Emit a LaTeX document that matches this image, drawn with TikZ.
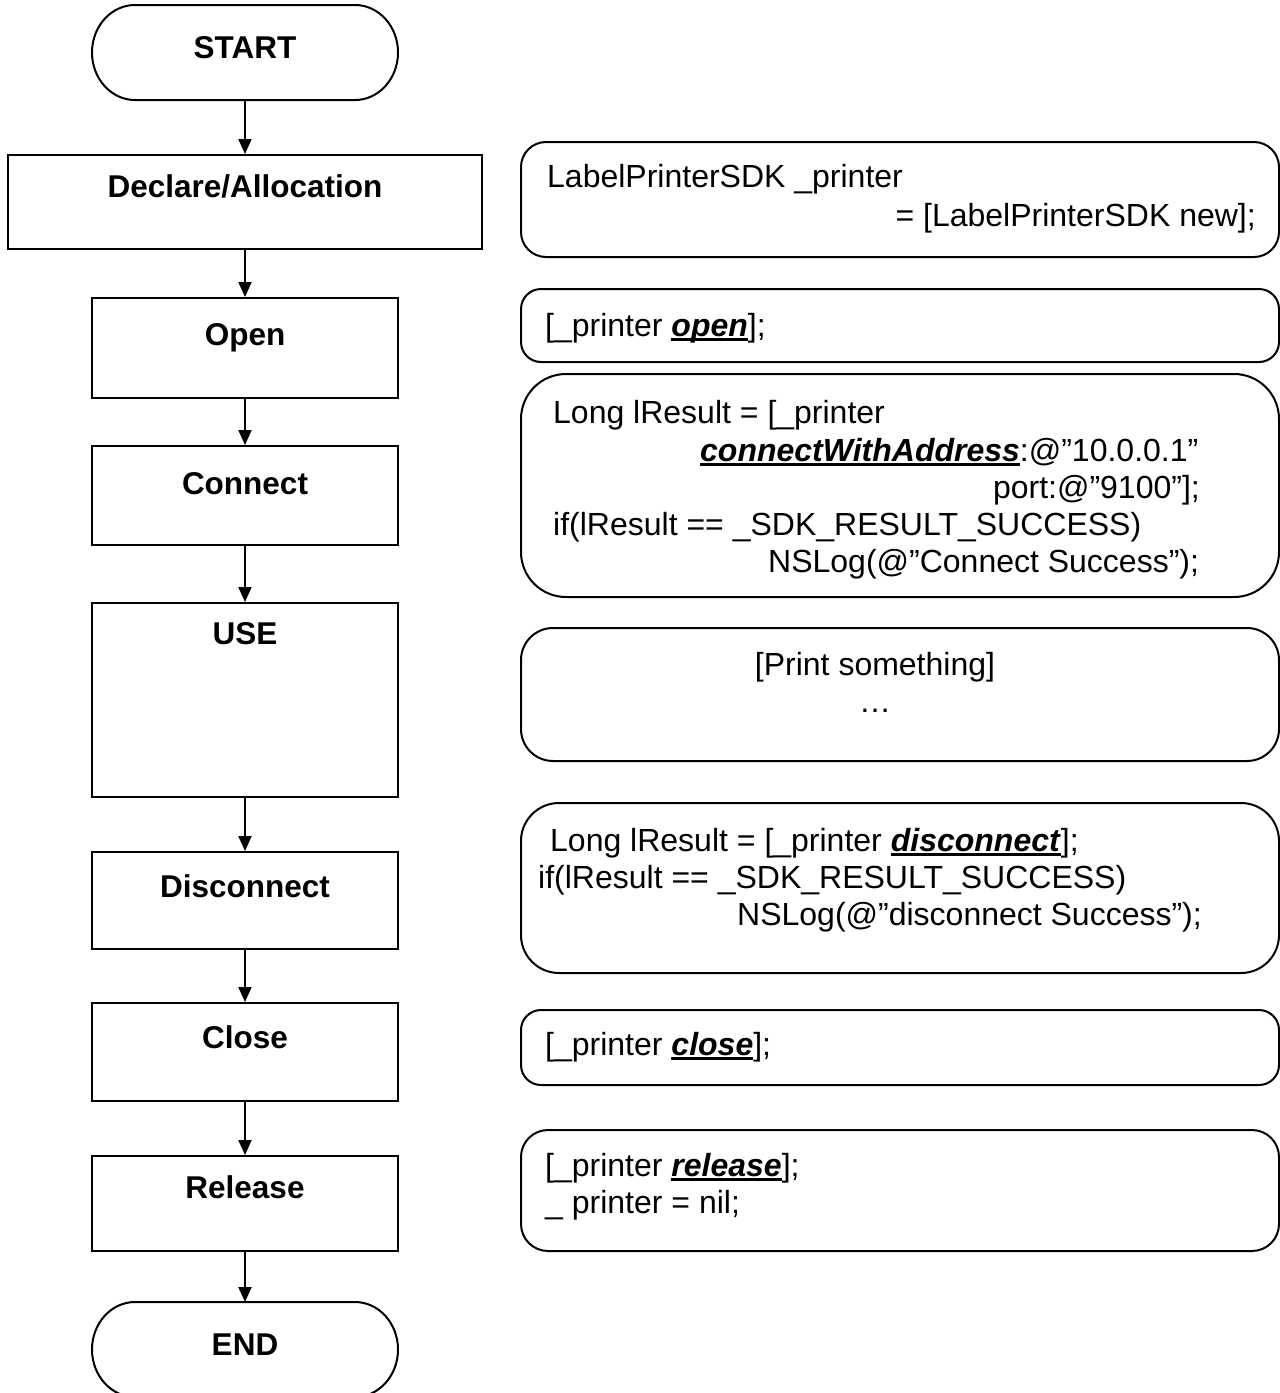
\documentclass[tikz,border=0pt]{standalone}
\usepackage{fontspec}
\setmainfont{Liberation Sans}
\usetikzlibrary{arrows.meta}
\newsavebox\myulbox
\newcommand{\myul}[1]{\sbox\myulbox{\textbf{\textit{#1}}}\rlap{\rule[-5pt]{\wd\myulbox}{2.6pt}}\usebox\myulbox}
\begin{document}
\begin{tikzpicture}[x=1pt,y=-1pt,
  flow/.style={draw, line width=2pt, minimum width=306pt, inner sep=0pt},
  term/.style={minimum width=306pt, minimum height=95pt, inner sep=0pt, outer sep=0pt},
  termline/.style={line width=2pt},
  codebox/.style={draw, line width=2pt, minimum width=758pt, inner sep=0pt},
  lbl/.style={font=\fontsize{31.5pt}{38pt}\selectfont\bfseries, inner sep=0pt, anchor=base},
  txt/.style={font=\fontsize{32pt}{38pt}\selectfont, inner sep=0pt, anchor=base west},
  arr/.style={line width=2pt, -{Triangle[length=15pt,width=13pt]}}]
\useasboundingbox (0,0) rectangle (1280,1393);
% left column
\node[term] (start) at (245,52.5) {};
\node[flow, minimum width=474pt, minimum height=94pt] (decl) at (245,202) {};
\node[flow, minimum height=100pt] (open) at (245,348) {};
\node[flow, minimum height=99pt] (conn) at (245,495.5) {};
\node[flow, minimum height=194pt] (use) at (245,700) {};
\node[flow, minimum height=97pt] (disc) at (245,900.5) {};
\node[flow, minimum height=98pt] (close) at (245,1052) {};
\node[flow, minimum height=95pt] (rel) at (245,1203.5) {};
\node[term] (end) at (245,1349.5) {};
\foreach \t in {start,end}{
  \draw[termline] ([xshift=43pt]\t.north west) -- ([xshift=-43pt]\t.north east)
    arc[start angle=90, end angle=-90, x radius=43pt, y radius=47.5pt]
    -- ([xshift=43pt]\t.south west)
    arc[start angle=270, end angle=90, x radius=43pt, y radius=47.5pt] -- cycle;
}
\node[lbl] (startT) at (245,58) {START};
\node[lbl] (declT) at (245,197) {Declare/Allocation};
\node[lbl] (openT) at (245,345) {Open};
\node[lbl] (connT) at (245,494) {Connect};
\node[lbl] (useT) at (245,644) {USE};
\node[lbl] (discT) at (245,897) {Disconnect};
\node[lbl] (closeT) at (245,1048) {Close};
\node[lbl] (relT) at (245,1198) {Release};
\node[lbl] (endT) at (245,1355) {END};
\draw[arr] (start) -- (decl);
\draw[arr] (decl) -- (open);
\draw[arr] (open) -- (conn);
\draw[arr] (conn) -- (use);
\draw[arr] (use) -- (disc);
\draw[arr] (disc) -- (close);
\draw[arr] (close) -- (rel);
\draw[arr] (rel) -- (end);
% right column
\node[codebox, rounded corners=25pt, minimum height=115pt] (b1) at (900,199.5) {};
\node[codebox, rounded corners=20pt, minimum height=73pt] (b2) at (900,325.5) {};
\node[codebox, rounded corners=45pt, minimum height=223pt] (b3) at (900,485.5) {};
\node[codebox, rounded corners=32pt, minimum height=133pt] (b4) at (900,694.5) {};
\node[codebox, rounded corners=38pt, minimum height=170pt] (b5) at (900,888) {};
\node[codebox, rounded corners=20pt, minimum height=75pt] (b6) at (900,1047.5) {};
\node[codebox, rounded corners=27pt, minimum height=121pt] (b7) at (900,1190.5) {};
\node[txt] (b1a) at (547,187) {LabelPrinterSDK \_printer};
\node[txt, anchor=base east] (b1b) at (1256,226) {= [LabelPrinterSDK new];};
\node[txt] (b2a) at (545,336) {[\_printer \myul{open}];};
\node[txt] (b3a) at (553,423) {Long lResult = [\_printer};
\node[txt] (b3b) at (700,461) {\myul{connectWithAddress}:@”10.0.0.1”};
\node[txt, anchor=base east] (b3c) at (1200,498) {port:@”9100”];};
\node[txt] (b3d) at (553,535) {if(lResult == \_SDK\_RESULT\_SUCCESS)};
\node[txt] (b3e) at (768,572) {NSLog(@”Connect Success”);};
\node[txt, anchor=base] (b4a) at (875,675) {[Print something]};
\node[txt, anchor=base] (b4b) at (875,712) {…};
\node[txt] (b5a) at (550,851) {Long lResult = [\_printer \myul{disconnect}];};
\node[txt] (b5b) at (538,888) {if(lResult == \_SDK\_RESULT\_SUCCESS)};
\node[txt] (b5c) at (737,925) {NSLog(@”disconnect Success”);};
\node[txt] (b6a) at (545,1055) {[\_printer \myul{close}];};
\node[txt] (b7a) at (545,1176) {[\_printer \myul{release}];};
\node[txt] (b7b) at (545,1213) {\_ printer = nil;};
\end{tikzpicture}
\end{document}
